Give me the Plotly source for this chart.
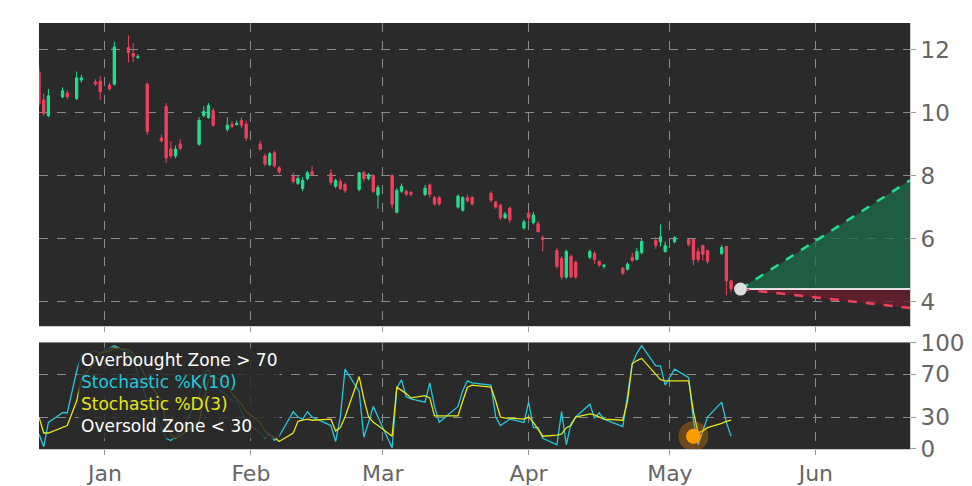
import plotly.graph_objects as go
from plotly.subplots import make_subplots

dates = [
    "2018-12-18", "2018-12-19", "2018-12-20", "2018-12-23", "2018-12-24", "2018-12-26", "2018-12-27", "2018-12-30", "2018-12-31",
    "2019-01-02", "2019-01-03", "2019-01-06", "2019-01-07", "2019-01-08", "2019-01-10", "2019-01-13", "2019-01-14", "2019-01-15",
    "2019-01-16", "2019-01-17", "2019-01-21", "2019-01-22", "2019-01-23", "2019-01-24", "2019-01-27", "2019-01-28", "2019-01-29",
    "2019-01-30", "2019-01-31",
    "2019-02-03", "2019-02-04", "2019-02-05", "2019-02-06", "2019-02-07", "2019-02-10", "2019-02-11", "2019-02-12", "2019-02-13",
    "2019-02-14", "2019-02-18", "2019-02-19", "2019-02-20", "2019-02-21", "2019-02-24", "2019-02-25", "2019-02-26", "2019-02-27",
    "2019-02-28",
    "2019-03-03", "2019-03-04", "2019-03-05", "2019-03-06", "2019-03-07", "2019-03-10", "2019-03-11", "2019-03-12", "2019-03-13",
    "2019-03-17", "2019-03-18", "2019-03-19", "2019-03-20", "2019-03-24", "2019-03-25", "2019-03-26", "2019-03-27", "2019-03-28",
    "2019-03-31",
    "2019-04-01", "2019-04-02", "2019-04-03", "2019-04-04", "2019-04-07", "2019-04-08", "2019-04-09", "2019-04-10", "2019-04-11",
    "2019-04-14", "2019-04-15", "2019-04-16", "2019-04-17", "2019-04-21", "2019-04-22", "2019-04-23", "2019-04-24", "2019-04-25",
    "2019-04-28", "2019-04-29", "2019-04-30",
    "2019-05-02", "2019-05-05", "2019-05-06", "2019-05-07", "2019-05-08", "2019-05-09", "2019-05-12", "2019-05-13", "2019-05-14",
]

opens = [
    11.28, 10.4, 9.9, 10.5, 10.62, 10.44, 11.03, 10.97, 11.0,
    10.87, 10.9, 12.06, 11.87, 11.75, 10.9, 9.19, 10.19, 8.84, 8.62, 9.0, 8.99, 9.9, 9.84, 10.06, 9.47, 9.63, 9.62, 9.75, 9.63,
    9.0, 8.62, 8.34, 8.72, 8.25, 7.97, 7.75, 7.59, 7.9, 8.12, 8.06, 7.66, 7.81, 7.72, 7.56, 8.09, 7.9, 8.0, 7.38,
    8.0, 6.84, 7.5, 7.5, 7.47, 7.4, 7.7, 7.3, 7.3, 7.0, 6.9, 7.3, 7.3, 7.44, 7.16, 7.06, 6.66, 6.97, 6.34,
    6.81, 6.5, 6.47, 6.03, 5.62, 5.37, 4.78, 5.44, 5.25, 5.41, 5.53, 5.28, 5.12, 5.06, 5.03, 5.41, 5.34, 5.56, 5.94, 5.9, 5.59,
    5.9, 5.97, 5.97, 5.59, 5.78, 5.62, 5.53, 5.75, 4.66,
]
closes = [
    10.28, 9.97, 10.53, 10.69, 10.5, 11.1, 11.1, 10.9, 10.66,
    10.75, 12.08, 11.9, 11.78, 11.77, 9.4, 9.1, 8.56, 8.62, 8.84, 8.87, 9.75, 10.03, 10.22, 9.6, 9.6, 9.56, 9.66, 9.6, 9.19,
    8.84, 8.37, 8.69, 8.31, 8.12, 7.81, 7.91, 7.84, 8.09, 8.03, 7.78, 7.84, 7.59, 7.53, 8.09, 7.9, 8.03, 7.5, 7.62,
    7.09, 7.53, 7.66, 7.41, 7.41, 7.6, 7.4, 7.1, 7.1, 7.35, 7.3, 7.2, 7.1, 7.22, 7.0, 6.66, 6.78, 6.6, 6.53,
    6.66, 6.75, 6.22, 5.97, 5.12, 4.78, 5.59, 4.78, 4.78, 5.59, 5.34, 5.16, 5.16, 4.9, 5.19, 5.31, 5.59, 5.91, 5.78, 6.06, 5.78,
    6.03, 5.81, 5.34, 5.34, 5.5, 5.28, 5.72, 4.66, 4.41,
]
highs = [
    11.45, 10.6, 10.75, 10.8, 10.7, 11.3, 11.2, 11.05, 11.15,
    10.95, 12.25, 12.45, 12.2, 11.85, 10.95, 9.3, 10.3, 9.1, 8.95, 9.15, 9.85, 10.2, 10.3, 10.15, 9.85, 9.72, 9.75, 9.85, 9.75,
    9.1, 8.7, 8.75, 8.8, 8.3, 8.1, 8.0, 7.95, 8.15, 8.3, 8.2, 7.9, 7.9, 7.78, 8.12, 8.15, 8.08, 8.05, 7.7,
    8.05, 7.6, 7.75, 7.55, 7.5, 7.7, 7.75, 7.35, 7.35, 7.4, 7.35, 7.4, 7.35, 7.5, 7.2, 7.1, 6.85, 7.02, 6.6,
    6.9, 6.85, 6.55, 6.1, 5.7, 5.45, 5.65, 5.5, 5.3, 5.65, 5.6, 5.3, 5.2, 5.1, 5.25, 5.55, 5.7, 6.0, 6.05, 6.45, 5.9,
    6.08, 5.99, 6.0, 5.7, 5.8, 5.65, 5.8, 5.78, 4.7,
]
lows = [
    10.2, 9.9, 9.85, 10.45, 10.42, 10.4, 10.95, 10.85, 10.4,
    10.7, 10.85, 11.6, 11.6, 11.7, 9.3, 9.05, 8.4, 8.55, 8.55, 8.8, 8.95, 9.85, 9.8, 9.55, 9.4, 9.5, 9.58, 9.5, 9.1,
    8.8, 8.3, 8.3, 8.25, 8.05, 7.75, 7.7, 7.5, 7.85, 8.0, 7.7, 7.6, 7.55, 7.45, 7.5, 7.8, 7.85, 7.45, 6.95,
    6.95, 6.8, 7.45, 7.35, 7.35, 7.35, 7.3, 7.05, 7.05, 6.95, 6.85, 7.15, 7.05, 7.15, 6.95, 6.6, 6.62, 6.5, 6.28,
    6.55, 6.45, 6.2, 5.6, 5.05, 4.7, 4.72, 4.75, 4.72, 5.35, 5.2, 5.1, 5.05, 4.85, 4.98, 5.25, 5.3, 5.5, 5.68, 5.75, 5.55,
    5.85, 5.75, 5.15, 5.25, 5.3, 5.2, 5.48, 4.2, 4.3,
]

stoch_k = [
    14, 2, 25, 34, 34, 73, 88, 92, 90,
    95, 97, 90, 85, 70, 45, 20, 10, 8, 12, 15, 50, 70, 75, 60, 50, 45, 45, 35, 25,
    15, 10, 15, 8, 12, 35, 30, 28, 35, 30, 22, 7, 30, 75, 54, 11, 25, 40, 30,
    1, 57, 65, 49, 47, 44, 62, 40, 25, 40, 55, 64, 62, 60, 30, 22, 25, 28, 25,
    44, 20, 20, 10, 4, 35, 4, 24, 30, 42, 29, 34, 28, 21, 50, 80, 90, 97, 78, 78, 60,
    75, 67, 27, 4, 16, 30, 44, 25, 12,
]
stoch_d = [
    30, 15, 15, 20, 22, 45, 65, 83, 90,
    92, 95, 93, 90, 82, 65, 45, 25, 13, 10, 12, 26, 45, 65, 68, 62, 52, 47, 42, 35,
    25, 17, 13, 11, 7, 15, 26, 27, 28, 27, 28, 17, 20, 30, 68, 47, 30, 25, 22,
    12, 58, 55, 52, 48, 50, 48, 31, 31, 31, 45, 58, 60, 58, 45, 30, 29, 29, 28,
    30, 25, 18, 12, 13, 14, 20, 22, 30, 33, 32, 30, 28, 27, 45, 80, 83, 85, 70, 65, 64,
    64, 64, 35, 15, 17, 20, 24, 26, 27,
]

signal_date = ["2019-05-06"]
signal_value = [12]

proj_dates = ["2019-05-16", "2019-06-21"]
proj_base = [4.4, 4.4]
proj_up = [4.4, 7.85]
proj_down = [4.4, 3.8]

BG = "#2a2a2a"
GREEN = "#1fe08f"
RED = "#f2405c"
GRID = "#8a8a8a"
TICK = "#666666"

fig = make_subplots(rows=2, cols=1, shared_xaxes=True, row_heights=[0.74, 0.26], vertical_spacing=0.038)

fig.add_trace(go.Candlestick(
    x=dates, open=opens, high=highs, low=lows, close=closes,
    increasing=dict(line=dict(color=GREEN, width=1), fillcolor=GREEN),
    decreasing=dict(line=dict(color=RED, width=1), fillcolor=RED),
    whiskerwidth=0, showlegend=False,
), row=1, col=1)

# projection fills
fig.add_trace(go.Scatter(x=proj_dates, y=proj_base, mode="lines", line=dict(color="#e0e0e0", width=2),
                         showlegend=False, hoverinfo="skip"), row=1, col=1)
fig.add_trace(go.Scatter(x=proj_dates, y=proj_up, mode="lines", fill="tonexty", fillcolor="rgba(30,110,75,0.75)",
                         line=dict(color=GREEN, width=2.5, dash="dash"), showlegend=False), row=1, col=1)
fig.add_trace(go.Scatter(x=proj_dates, y=proj_base, mode="lines", line=dict(color="#e0e0e0", width=2),
                         showlegend=False, hoverinfo="skip"), row=1, col=1)
fig.add_trace(go.Scatter(x=proj_dates, y=proj_down, mode="lines", fill="tonexty", fillcolor="rgba(110,30,45,0.75)",
                         line=dict(color=RED, width=2.5, dash="dash"), showlegend=False), row=1, col=1)
fig.add_trace(go.Scatter(x=proj_dates[:1], y=proj_base[:1], mode="markers",
                         marker=dict(color="#dcdcdc", size=13), showlegend=False), row=1, col=1)

# stochastic
fig.add_trace(go.Scatter(x=dates, y=stoch_k, mode="lines", line=dict(color="#22c8dc", width=1.3),
                         showlegend=False), row=2, col=1)
fig.add_trace(go.Scatter(x=dates, y=stoch_d, mode="lines", line=dict(color="#e6e619", width=1.3),
                         showlegend=False), row=2, col=1)
fig.add_trace(go.Scatter(x=signal_date, y=signal_value, mode="markers",
                         marker=dict(color="rgba(255,140,0,0.3)", size=30), showlegend=False), row=2, col=1)
fig.add_trace(go.Scatter(x=signal_date, y=signal_value, mode="markers",
                         marker=dict(color="#ff9a00", size=15), showlegend=False), row=2, col=1)

axis_common = dict(showgrid=True, gridcolor=GRID, griddash="dash", gridwidth=1, automargin=False,
                   showline=True, linecolor="#cccccc", mirror=False, zeroline=False)
fig.update_xaxes(**axis_common, range=["2018-12-18", "2019-06-21"], rangeslider_visible=False,
                 ticks="outside", ticklen=5, tickcolor="#999999",
                 tickvals=["2019-01-01", "2019-02-01", "2019-03-01", "2019-04-01", "2019-05-01", "2019-06-01"],
                 ticktext=["Jan", "Feb", "Mar", "Apr", "May", "Jun"],
                 tickfont=dict(size=22, color=TICK, family="DejaVu Sans"))
fig.update_xaxes(showticklabels=False, row=1, col=1)
fig.update_yaxes(**axis_common, side="right", ticks="outside", ticklen=5, tickcolor="#999999",
                 tickfont=dict(size=23, color=TICK, family="DejaVu Sans"))
fig.update_yaxes(range=[3.22, 12.84], tickvals=[4, 6, 8, 10, 12], row=1, col=1)
fig.update_yaxes(range=[0, 100], tickvals=[0, 30, 70, 100], row=2, col=1)

fig.add_annotation(
    xref="paper", yref="paper", x=0.045, y=0.24, xanchor="left", yanchor="top", align="left",
    text="Overbought Zone > 70<br><span style='color:#22c8dc'>Stochastic %K(10)</span><br>"
         "<span style='color:#e6e619'>Stochastic %D(3)</span><br>Oversold Zone < 30",
    font=dict(size=17, color="white", family="DejaVu Sans"),
    showarrow=False, bgcolor="rgba(42,42,42,0.85)", borderpad=2,
)

fig.update_layout(
    width=972, height=486,
    margin=dict(l=31, r=70, t=15, b=45, autoexpand=False),
    paper_bgcolor="white", plot_bgcolor=BG,
    showlegend=False,
)

fig.write_html("out.html")
